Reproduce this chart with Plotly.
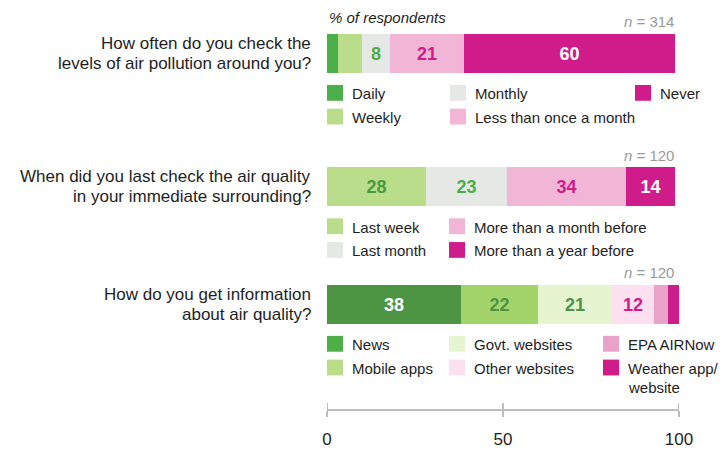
import plotly.graph_objects as go

# ---- survey data -------------------------------------------------------
q1_question = ["How often do you check the", "levels of air pollution around you?"]
q1_n = 314
q1_labels = ["Daily", "Weekly", "Monthly", "Less than once a month", "Never"]
q1_values = [3, 7, 8, 21, 60]

q2_question = ["When did you last check the air quality", "in your immediate surrounding?"]
q2_n = 120
q2_labels = ["Last week", "Last month", "More than a month before", "More than a year before"]
q2_values = [28, 23, 34, 14]

q3_question = ["How do you get information", "about air quality?"]
q3_n = 120
q3_labels = ["News", "Mobile apps", "Govt. websites", "Other websites", "EPA AIRNow",
             "Weather app/<br>website"]
q3_values = [38, 22, 21, 12, 4, 3]

tick_values = [0, 50, 100]

# ---- styling -----------------------------------------------------------
FONT = "Liberation Sans, Arial, sans-serif"
TEXT = "#1e1e1e"
GREY = "#999999"

q1_colors = ["#4caf4a", "#b9dd8b", "#e6e8e6", "#f1b6d6", "#d01c8b"]
q1_swatch = q1_colors
q1_textc = [None, None, "#4caf4a", "#d01c8b", "#ffffff"]

q2_colors = ["#b9dd8b", "#e6e8e6", "#f1b6d6", "#d01c8b"]
q2_swatch = q2_colors
q2_textc = ["#4a9a3e", "#4caf4a", "#d01c8b", "#ffffff"]

q3_colors = ["#4d9443", "#a3d46c", "#e6f5d0", "#fde0ef", "#e9a3c9", "#d01c8b"]
q3_swatch = ["#4caf4a", "#b9dd8b", "#e6f5d0", "#fde0ef", "#e9a3c9", "#d01c8b"]
q3_textc = ["#ffffff", "#4d9443", "#4d9443", "#d01c8b", None, None]

# layout geometry (pixels of a 720x449 canvas)
W, H = 720, 449
L, R = 327, 679          # x-axis extent
AXIS_Y = 414             # x-axis baseline
BAR_H = 40
LABEL_MIN = 8            # segments narrower than this carry no number


def px(x):
    """Convert a horizontal pixel position into paper coordinates."""
    return (x - L) / (R - L)


questions = [
    dict(q=q1_question, n=q1_n, labels=q1_labels, values=q1_values, colors=q1_colors,
         swatch=q1_swatch, textc=q1_textc, yc=54, cols=[327, 450, 635], rows=2),
    dict(q=q2_question, n=q2_n, labels=q2_labels, values=q2_values, colors=q2_colors,
         swatch=q2_swatch, textc=q2_textc, yc=189, cols=[327, 449], rows=2),
    dict(q=q3_question, n=q3_n, labels=q3_labels, values=q3_values, colors=q3_colors,
         swatch=q3_swatch, textc=q3_textc, yc=308, cols=[327, 449, 603], rows=2),
]

fig = go.Figure()
shapes = []
annotations = []

for qd in questions:
    yc = qd["yc"]
    for i, (lab, val, col) in enumerate(zip(qd["labels"], qd["values"], qd["colors"])):
        show = val >= LABEL_MIN and qd["textc"][i] is not None
        fig.add_trace(go.Bar(
            x=[val], y=[yc], orientation="h", width=BAR_H,
            marker=dict(color=col, line=dict(width=0)),
            text=[str(val)] if show else [""],
            textposition="inside", insidetextanchor="middle",
            textfont=dict(family=FONT, size=18, color=qd["textc"][i] or "#fff", weight="bold"),
            constraintext="none",
            name=lab.replace("<br>", " "), showlegend=False, hoverinfo="skip",
        ))

    # question text on the left, one annotation per line for tight leading
    for k, line in enumerate(qd["q"]):
        annotations.append(dict(
            text=line, x=px(313), y=yc - 10 + 20 * k, xref="paper", yref="y",
            xanchor="right", yanchor="middle", align="right", showarrow=False,
            font=dict(family=FONT, size=17, color=TEXT),
        ))
    # sample size
    annotations.append(dict(
        text=f"<i>n</i> = {qd['n']}", x=px(676), y=yc - BAR_H / 2 - 12,
        xref="paper", yref="y", xanchor="right", yanchor="middle", showarrow=False,
        font=dict(family=FONT, size=15, color=GREY),
    ))

    # custom legend: swatches laid out column by column
    for i, lab in enumerate(qd["labels"]):
        col_x = qd["cols"][i // qd["rows"]]
        row_y = yc + 40 + 24 * (i % qd["rows"])
        shapes.append(dict(
            type="rect", xref="paper", yref="y",
            x0=px(col_x), x1=px(col_x + 16), y0=row_y - 8, y1=row_y + 8,
            fillcolor=qd["swatch"][i], line=dict(width=0), layer="above",
        ))
        for k, line in enumerate(lab.split("<br>")):
            annotations.append(dict(
                text=line, x=px(col_x + 23), y=row_y + 1 + 19 * k,
                xref="paper", yref="y", xanchor="left", yanchor="middle",
                align="left", showarrow=False,
                font=dict(family=FONT, size=15, color=TEXT),
            ))

annotations.append(dict(
    text="<i>% of respondents</i>", x=0, y=18, xref="paper", yref="y",
    xanchor="left", yanchor="middle", showarrow=False,
    font=dict(family=FONT, size=15, color=TEXT),
))

# upper half of the axis tick marks (lower half comes from the axis itself)
for t in tick_values:
    shapes.append(dict(
        type="line", xref="x", yref="y", x0=t, x1=t, y0=AXIS_Y - 6, y1=AXIS_Y,
        line=dict(color="#bdbdbd", width=2),
    ))

fig.update_layout(
    width=W, height=H,
    margin=dict(l=L, r=W - R, t=0, b=H - AXIS_Y),
    paper_bgcolor="white", plot_bgcolor="white",
    barmode="stack", bargap=0,
    showlegend=False,
    xaxis=dict(
        range=[0, 100], tickvals=tick_values, ticktext=[str(t) for t in tick_values],
        showgrid=False, zeroline=False,
        showline=True, linecolor="#bdbdbd", linewidth=2,
        ticks="outside", ticklen=6, tickwidth=2, tickcolor="#bdbdbd",
        ticklabelstandoff=8,
        tickfont=dict(family=FONT, size=17, color=TEXT),
        fixedrange=True,
    ),
    yaxis=dict(
        range=[AXIS_Y, 0], visible=False, showgrid=False, zeroline=False,
        fixedrange=True,
    ),
    shapes=shapes,
    annotations=annotations,
)

fig.write_html("out.html")
